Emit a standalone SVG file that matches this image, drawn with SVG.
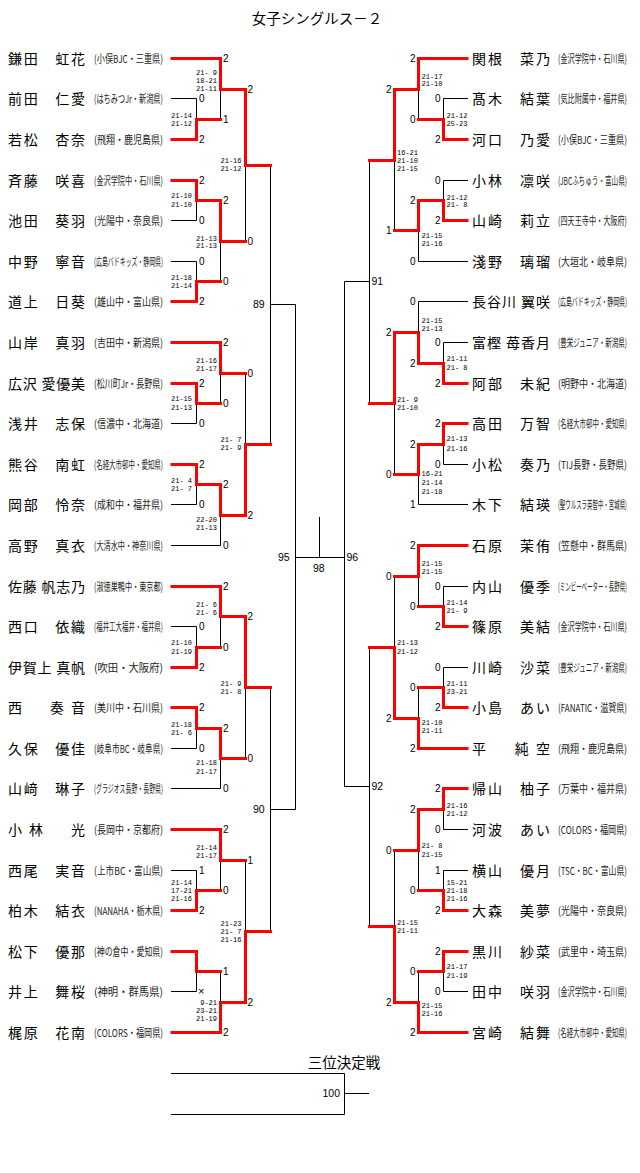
<svg xmlns="http://www.w3.org/2000/svg" width="640" height="1173" viewBox="0 0 640 1173">
<style>
.k{fill:none;stroke:#000;stroke-width:1}
.r{fill:none;stroke:#f00;stroke-width:3;stroke-linecap:square;stroke-linejoin:miter}
.nm{font-family:"Noto Sans CJK JP","Noto Sans CJK SC",sans-serif;font-size:14px;fill:#000}
.af{font-family:"Noto Sans CJK JP","Noto Sans CJK SC",sans-serif;font-size:11px;fill:#222}
.sc{font-family:"Liberation Mono",monospace;font-size:8px;fill:#000}
.lb{font-family:"Liberation Sans",sans-serif;font-size:10px;fill:#000}
.e{text-anchor:end}
.num{font-family:"Liberation Sans",sans-serif;font-size:10.5px;fill:#000}
.ttl{font-family:"Noto Sans CJK JP","Noto Sans CJK SC",sans-serif;font-size:14.5px;fill:#000}
</style>
<rect width="640" height="1173" fill="#fff"/>
<text class="ttl" x="317" y="24" text-anchor="middle">女子シングルス－２</text>

<g id="connectors">
<path class="k" d="M171 98.5H196.5 M171 220.5H196.5 M171 261.5H196.5 M171 423.5H196.5 M171 504.5H196.5 M171 545.5H220.5 M171 626.5H196.5 M171 748.5H196.5 M171 788.5H220.5 M171 870.5H196.5 M171 991.5H196.5
M196.5 98.5V139.5 M220.5 58.5V119.5 M196.5 180.5V220.5 M196.5 261.5V301.5 M220.5 200.5V281.5 M245.5 89.5V241.5
M196.5 383.5V423.5 M220.5 342.5V403.5 M196.5 464.5V504.5 M220.5 484.5V545.5 M245.5 373.5V515.5
M270.5 165.5V444.5 M270.5 304.5H295.5
M196.5 626.5V667.5 M220.5 586.5V647.5 M196.5 707.5V748.5 M220.5 728.5V788.5 M245.5 616.5V758.5
M196.5 870.5V910.5 M220.5 829.5V890.5 M196.5 951.5V991.5 M220.5 971.5V1032.5 M245.5 860.5V1002.5
M270.5 687.5V931.5 M270.5 809.5H295.5
M295.5 304.5V809.5 M295.5 557.5H344.5 M319.5 517V557.5
M344.5 281.5V786.5 M369.5 160.5V403.5 M369.5 281.5H344.5 M369.5 647.5V926.5 M369.5 786.5H344.5
M468 98.5H443.5 M468 180.5H443.5 M468 261.5H418.5 M468 301.5H418.5 M468 342.5H443.5 M468 464.5H443.5 M468 504.5H418.5 M468 586.5H443.5 M468 667.5H443.5 M468 829.5H443.5 M468 870.5H443.5 M468 991.5H443.5
M443.5 98.5V139.5 M418.5 58.5V119.5 M443.5 180.5V220.5 M418.5 200.5V261.5 M394.5 89.5V230.5 M443.5 342.5V383.5 M418.5 301.5V363.5 M443.5 423.5V464.5 M418.5 444.5V504.5 M394.5 332.5V474.5 M443.5 586.5V626.5 M418.5 545.5V606.5 M443.5 667.5V707.5 M418.5 687.5V748.5 M394.5 576.5V718.5 M443.5 788.5V829.5 M443.5 870.5V910.5 M418.5 809.5V890.5 M443.5 951.5V991.5 M418.5 971.5V1032.5 M394.5 850.5V1002.5
M171 1073.5H344.5V1114.5H171 M344.5 1093.5H369"/>
<path class="r" d="M172 58.5H220.5 M172 139.5H196.5 M172 180.5H196.5 M172 301.5H196.5 M172 342.5H220.5 M172 383.5H196.5 M172 464.5H196.5 M172 586.5H220.5 M172 667.5H196.5 M172 707.5H196.5 M172 829.5H220.5 M172 910.5H196.5 M172 951.5H196.5 M172 1032.5H220.5
M196.5 139.5V119.5H220.5 M220.5 58.5V89.5H245.5 M196.5 180.5V200.5H220.5 M196.5 301.5V281.5H220.5 M220.5 200.5V241.5H245.5 M245.5 89.5V165.5H270.5 M196.5 383.5V403.5H220.5 M220.5 342.5V373.5H245.5 M196.5 464.5V484.5H220.5 M220.5 484.5V515.5H245.5 M245.5 515.5V444.5H270.5 M196.5 667.5V647.5H220.5 M220.5 586.5V616.5H245.5 M196.5 707.5V728.5H220.5 M220.5 728.5V758.5H245.5 M245.5 616.5V687.5H270.5 M196.5 910.5V890.5H220.5 M220.5 829.5V860.5H245.5 M196.5 951.5V971.5H220.5 M220.5 1032.5V1002.5H245.5 M245.5 1002.5V931.5H270.5
M467 58.5H418.5 M467 139.5H443.5 M467 220.5H443.5 M467 383.5H443.5 M467 423.5H443.5 M467 545.5H418.5 M467 626.5H443.5 M467 707.5H443.5 M467 748.5H418.5 M467 788.5H443.5 M467 910.5H443.5 M467 951.5H443.5 M467 1032.5H418.5
M443.5 139.5V119.5H418.5 M418.5 58.5V89.5H394.5 M443.5 220.5V200.5H418.5 M418.5 200.5V230.5H394.5 M394.5 89.5V160.5H369.5 M443.5 383.5V363.5H418.5 M418.5 363.5V332.5H394.5 M443.5 423.5V444.5H418.5 M418.5 444.5V474.5H394.5 M394.5 332.5V403.5H369.5 M443.5 626.5V606.5H418.5 M418.5 545.5V576.5H394.5 M443.5 707.5V687.5H418.5 M418.5 748.5V718.5H394.5 M394.5 718.5V647.5H369.5 M443.5 788.5V809.5H418.5 M443.5 910.5V890.5H418.5 M418.5 809.5V850.5H394.5 M443.5 951.5V971.5H418.5 M418.5 1032.5V1002.5H394.5 M394.5 1002.5V926.5H369.5"/>
</g>

<g id="match-numbers" class="num">
<text x="253" y="308.3">89</text>
<text x="253" y="813.3">90</text>
<text x="278" y="561.3">95</text>
<text x="346.5" y="561.3">96</text>
<text x="313" y="572.3">98</text>
<text x="371.5" y="285.3">91</text>
<text x="371.5" y="790.3">92</text>
<text x="322.5" y="1097.3">100</text>
</g>

<g id="game-scores" class="lb">
<text x="199" y="102.1">0</text><text x="199" y="143.1">2</text>
<text x="223" y="62.1">2</text><text x="223" y="123.1">1</text>
<text x="199" y="184.1">2</text><text x="199" y="224.1">0</text>
<text x="199" y="265.1">0</text><text x="199" y="305.1">2</text>
<text x="223" y="204.1">2</text><text x="223" y="285.1">0</text>
<text x="247.5" y="93.1">2</text><text x="247.5" y="245.1">0</text>
<text x="199" y="387.1">2</text><text x="199" y="427.1">0</text>
<text x="223" y="346.1">2</text><text x="223" y="407.1">0</text>
<text x="199" y="468.1">2</text><text x="199" y="508.1">0</text>
<text x="223" y="488.1">2</text><text x="223" y="549.1">0</text>
<text x="247.5" y="377.1">0</text><text x="247.5" y="519.1">2</text>
<text x="199" y="630.1">0</text><text x="199" y="671.1">2</text>
<text x="223" y="590.1">2</text><text x="223" y="651.1">0</text>
<text x="199" y="711.1">2</text><text x="199" y="752.1">0</text>
<text x="223" y="732.1">2</text><text x="223" y="792.1">0</text>
<text x="247.5" y="620.1">2</text><text x="247.5" y="762.1">0</text>
<text x="199" y="874.1">1</text><text x="199" y="914.1">2</text>
<text x="223" y="833.1">2</text><text x="223" y="894.1">0</text>
<text x="198" y="995.3" style="font-size:11px">×</text>
<text x="223" y="975.1">1</text><text x="223" y="1036.1">2</text>
<text x="247.5" y="864.1">1</text><text x="247.5" y="1006.1">2</text>
<g class="e">
<text x="440.5" y="102.1">0</text><text x="440.5" y="143.1">2</text>
<text x="415.5" y="62.1">2</text><text x="415.5" y="123.1">0</text>
<text x="440.5" y="184.1">0</text><text x="440.5" y="224.1">2</text>
<text x="415.5" y="204.1">2</text><text x="415.5" y="265.1">0</text>
<text x="391.5" y="93.1">2</text><text x="391.5" y="234.1">1</text>
<text x="440.5" y="346.1">0</text><text x="440.5" y="387.1">2</text>
<text x="415.5" y="305.1">0</text><text x="415.5" y="367.1">2</text>
<text x="440.5" y="427.1">2</text><text x="440.5" y="468.1">0</text>
<text x="415.5" y="448.1">2</text><text x="415.5" y="508.1">1</text>
<text x="391.5" y="336.1">2</text><text x="391.5" y="478.1">0</text>
<text x="440.5" y="590.1">0</text><text x="440.5" y="630.1">2</text>
<text x="415.5" y="549.1">2</text><text x="415.5" y="610.1">0</text>
<text x="440.5" y="671.1">0</text><text x="440.5" y="711.1">2</text>
<text x="415.5" y="691.1">0</text><text x="415.5" y="752.1">2</text>
<text x="391.5" y="580.1">0</text><text x="391.5" y="722.1">2</text>
<text x="440.5" y="792.1">2</text><text x="440.5" y="833.1">0</text>
<text x="440.5" y="874.1">1</text><text x="440.5" y="914.1">2</text>
<text x="415.5" y="813.1">2</text><text x="415.5" y="894.1">0</text>
<text x="440.5" y="955.1">2</text><text x="440.5" y="995.1">0</text>
<text x="415.5" y="975.1">0</text><text x="415.5" y="1036.1">2</text>
<text x="391.5" y="854.1">0</text><text x="391.5" y="1006.1">2</text>
</g>
</g>

<g id="point-scores" class="sc">
<text x="171" y="117.8" textLength="21" lengthAdjust="spacingAndGlyphs">21-14</text>
<text x="171" y="125.8" textLength="21" lengthAdjust="spacingAndGlyphs">21-12</text>
<text x="196" y="74.8" textLength="21" lengthAdjust="spacingAndGlyphs">21- 9</text>
<text x="196" y="82.8" textLength="21" lengthAdjust="spacingAndGlyphs">18-21</text>
<text x="196" y="90.8" textLength="21" lengthAdjust="spacingAndGlyphs">21-11</text>
<text x="171" y="198.3" textLength="21" lengthAdjust="spacingAndGlyphs">21-10</text>
<text x="171" y="206.8" textLength="21" lengthAdjust="spacingAndGlyphs">21-10</text>
<text x="171" y="279.5" textLength="21" lengthAdjust="spacingAndGlyphs">21-18</text>
<text x="171" y="287.8" textLength="21" lengthAdjust="spacingAndGlyphs">21-14</text>
<text x="196" y="240.5" textLength="21" lengthAdjust="spacingAndGlyphs">21-13</text>
<text x="196" y="247.8" textLength="21" lengthAdjust="spacingAndGlyphs">21-13</text>
<text x="220.5" y="162.8" textLength="21" lengthAdjust="spacingAndGlyphs">21-16</text>
<text x="220.5" y="171.3" textLength="21" lengthAdjust="spacingAndGlyphs">21-12</text>
<text x="171" y="400.8" textLength="21" lengthAdjust="spacingAndGlyphs">21-15</text>
<text x="171" y="409.5" textLength="21" lengthAdjust="spacingAndGlyphs">21-13</text>
<text x="196" y="362.8" textLength="21" lengthAdjust="spacingAndGlyphs">21-16</text>
<text x="196" y="370.8" textLength="21" lengthAdjust="spacingAndGlyphs">21-17</text>
<text x="171" y="482.8" textLength="21" lengthAdjust="spacingAndGlyphs">21- 4</text>
<text x="171" y="490.8" textLength="21" lengthAdjust="spacingAndGlyphs">21- 7</text>
<text x="196" y="521.8" textLength="21" lengthAdjust="spacingAndGlyphs">22-20</text>
<text x="196" y="529.8" textLength="21" lengthAdjust="spacingAndGlyphs">21-13</text>
<text x="220.5" y="441.8" textLength="21" lengthAdjust="spacingAndGlyphs">21- 7</text>
<text x="220.5" y="449.8" textLength="21" lengthAdjust="spacingAndGlyphs">21- 9</text>
<text x="171" y="644.5" textLength="21" lengthAdjust="spacingAndGlyphs">21-10</text>
<text x="171" y="653.5" textLength="21" lengthAdjust="spacingAndGlyphs">21-19</text>
<text x="196" y="606.8" textLength="21" lengthAdjust="spacingAndGlyphs">21- 6</text>
<text x="196" y="614.8" textLength="21" lengthAdjust="spacingAndGlyphs">21- 6</text>
<text x="171" y="726.8" textLength="21" lengthAdjust="spacingAndGlyphs">21-18</text>
<text x="171" y="735.1" textLength="21" lengthAdjust="spacingAndGlyphs">21- 6</text>
<text x="196" y="764.5" textLength="21" lengthAdjust="spacingAndGlyphs">21-18</text>
<text x="196" y="773.8" textLength="21" lengthAdjust="spacingAndGlyphs">21-17</text>
<text x="220.5" y="686.1" textLength="21" lengthAdjust="spacingAndGlyphs">21- 9</text>
<text x="220.5" y="693.5" textLength="21" lengthAdjust="spacingAndGlyphs">21- 8</text>
<text x="171" y="884.5" textLength="21" lengthAdjust="spacingAndGlyphs">21-14</text>
<text x="171" y="893.1" textLength="21" lengthAdjust="spacingAndGlyphs">17-21</text>
<text x="171" y="900.8" textLength="21" lengthAdjust="spacingAndGlyphs">21-16</text>
<text x="196" y="849.8" textLength="21" lengthAdjust="spacingAndGlyphs">21-14</text>
<text x="196" y="858.1" textLength="21" lengthAdjust="spacingAndGlyphs">21-17</text>
<text x="200.2" y="1005.1" textLength="16.8" lengthAdjust="spacingAndGlyphs">9-21</text>
<text x="196" y="1013.1" textLength="21" lengthAdjust="spacingAndGlyphs">23-21</text>
<text x="196" y="1020.8" textLength="21" lengthAdjust="spacingAndGlyphs">21-19</text>
<text x="220.5" y="926.1" textLength="21" lengthAdjust="spacingAndGlyphs">21-23</text>
<text x="220.5" y="933.5" textLength="21" lengthAdjust="spacingAndGlyphs">21- 7</text>
<text x="220.5" y="941.8" textLength="21" lengthAdjust="spacingAndGlyphs">21-16</text>
<text x="446.5" y="117.8" textLength="21" lengthAdjust="spacingAndGlyphs">21-12</text>
<text x="446.5" y="126.1" textLength="21" lengthAdjust="spacingAndGlyphs">25-23</text>
<text x="421.5" y="78.5" textLength="21" lengthAdjust="spacingAndGlyphs">21-17</text>
<text x="421.5" y="86.1" textLength="21" lengthAdjust="spacingAndGlyphs">21-10</text>
<text x="446.5" y="199.5" textLength="21" lengthAdjust="spacingAndGlyphs">21-12</text>
<text x="446.5" y="206.8" textLength="21" lengthAdjust="spacingAndGlyphs">21- 8</text>
<text x="421.5" y="237.8" textLength="21" lengthAdjust="spacingAndGlyphs">21-15</text>
<text x="421.5" y="245.5" textLength="21" lengthAdjust="spacingAndGlyphs">21-16</text>
<text x="397" y="154.5" textLength="21" lengthAdjust="spacingAndGlyphs">16-21</text>
<text x="397" y="162.8" textLength="21" lengthAdjust="spacingAndGlyphs">21-10</text>
<text x="397" y="171.1" textLength="21" lengthAdjust="spacingAndGlyphs">21-15</text>
<text x="446.5" y="361.1" textLength="21" lengthAdjust="spacingAndGlyphs">21-11</text>
<text x="446.5" y="370.1" textLength="21" lengthAdjust="spacingAndGlyphs">21- 8</text>
<text x="421.5" y="322.8" textLength="21" lengthAdjust="spacingAndGlyphs">21-15</text>
<text x="421.5" y="331.1" textLength="21" lengthAdjust="spacingAndGlyphs">21-13</text>
<text x="446.5" y="441.1" textLength="21" lengthAdjust="spacingAndGlyphs">21-13</text>
<text x="446.5" y="450.5" textLength="21" lengthAdjust="spacingAndGlyphs">21-16</text>
<text x="421.5" y="476.1" textLength="21" lengthAdjust="spacingAndGlyphs">16-21</text>
<text x="421.5" y="484.8" textLength="21" lengthAdjust="spacingAndGlyphs">21-14</text>
<text x="421.5" y="493.5" textLength="21" lengthAdjust="spacingAndGlyphs">21-18</text>
<text x="397" y="401.8" textLength="21" lengthAdjust="spacingAndGlyphs">21- 9</text>
<text x="397" y="409.5" textLength="21" lengthAdjust="spacingAndGlyphs">21-10</text>
<text x="446.5" y="604.8" textLength="21" lengthAdjust="spacingAndGlyphs">21-14</text>
<text x="446.5" y="612.8" textLength="21" lengthAdjust="spacingAndGlyphs">21- 9</text>
<text x="421.5" y="566.1" textLength="21" lengthAdjust="spacingAndGlyphs">21-15</text>
<text x="421.5" y="573.8" textLength="21" lengthAdjust="spacingAndGlyphs">21-15</text>
<text x="446.5" y="685.5" textLength="21" lengthAdjust="spacingAndGlyphs">21-11</text>
<text x="446.5" y="693.8" textLength="21" lengthAdjust="spacingAndGlyphs">23-21</text>
<text x="421.5" y="725.1" textLength="21" lengthAdjust="spacingAndGlyphs">21-10</text>
<text x="421.5" y="732.8" textLength="21" lengthAdjust="spacingAndGlyphs">21-11</text>
<text x="397" y="644.5" textLength="21" lengthAdjust="spacingAndGlyphs">21-13</text>
<text x="397" y="653.8" textLength="21" lengthAdjust="spacingAndGlyphs">21-12</text>
<text x="446.5" y="807.8" textLength="21" lengthAdjust="spacingAndGlyphs">21-16</text>
<text x="446.5" y="815.8" textLength="21" lengthAdjust="spacingAndGlyphs">21-12</text>
<text x="446.5" y="884.5" textLength="21" lengthAdjust="spacingAndGlyphs">15-21</text>
<text x="446.5" y="892.8" textLength="21" lengthAdjust="spacingAndGlyphs">21-18</text>
<text x="446.5" y="900.8" textLength="21" lengthAdjust="spacingAndGlyphs">21-16</text>
<text x="421.5" y="847.8" textLength="21" lengthAdjust="spacingAndGlyphs">21- 8</text>
<text x="421.5" y="856.8" textLength="21" lengthAdjust="spacingAndGlyphs">21-15</text>
<text x="446.5" y="968.8" textLength="21" lengthAdjust="spacingAndGlyphs">21-17</text>
<text x="446.5" y="977.5" textLength="21" lengthAdjust="spacingAndGlyphs">21-19</text>
<text x="421.5" y="1007.8" textLength="21" lengthAdjust="spacingAndGlyphs">21-15</text>
<text x="421.5" y="1016.1" textLength="21" lengthAdjust="spacingAndGlyphs">21-16</text>
<text x="397" y="924.5" textLength="21" lengthAdjust="spacingAndGlyphs">21-15</text>
<text x="397" y="932.8" textLength="21" lengthAdjust="spacingAndGlyphs">21-11</text>
</g>

<g id="L00"><text class="nm" x="8" y="63.5" textLength="77">鎌田　虹花</text><text class="af" transform="translate(94 62.5) scale(0.75 1)" textLength="92" lengthAdjust="spacingAndGlyphs">(小俣BJC・三重県)</text></g>
<g id="L01"><text class="nm" x="8" y="103.5" textLength="77">前田　仁愛</text><text class="af" transform="translate(94 102.5) scale(0.66 1)" textLength="104.5" lengthAdjust="spacingAndGlyphs">(はちみつJr・新潟県)</text></g>
<g id="L02"><text class="nm" x="8" y="144.5" textLength="77">若松　杏奈</text><text class="af" transform="translate(94 143.5) scale(0.821 1)" textLength="84" lengthAdjust="spacingAndGlyphs">(飛翔・鹿児島県)</text></g>
<g id="L03"><text class="nm" x="8" y="185.5" textLength="77">斉藤　咲喜</text><text class="af" transform="translate(94 184.5) scale(0.651 1)" textLength="106" lengthAdjust="spacingAndGlyphs">(金沢学院中・石川県)</text></g>
<g id="L04"><text class="nm" x="8" y="225.5" textLength="77">池田　葵羽</text><text class="af" transform="translate(94 224.5) scale(0.821 1)" textLength="84" lengthAdjust="spacingAndGlyphs">(光陽中・奈良県)</text></g>
<g id="L05"><text class="nm" x="8" y="266.5" textLength="77">中野　寧音</text><text class="af" transform="translate(94 265.5) scale(0.539 1)" textLength="128" lengthAdjust="spacingAndGlyphs">(広島バドキッズ・静岡県)</text></g>
<g id="L06"><text class="nm" x="8" y="306.5" textLength="77">道上　日葵</text><text class="af" transform="translate(94 305.5) scale(0.821 1)" textLength="84" lengthAdjust="spacingAndGlyphs">(雄山中・富山県)</text></g>
<g id="L07"><text class="nm" x="8" y="347.5" textLength="77">山岸　真羽</text><text class="af" transform="translate(94 346.5) scale(0.821 1)" textLength="84" lengthAdjust="spacingAndGlyphs">(吉田中・新潟県)</text></g>
<g id="L08"><text class="nm" x="8" y="388.5" textLength="77">広沢 愛優美</text><text class="af" transform="translate(94 387.5) scale(0.738 1)" textLength="93.5" lengthAdjust="spacingAndGlyphs">(松川町Jr・長野県)</text></g>
<g id="L09"><text class="nm" x="8" y="428.5" textLength="77">浅井　志保</text><text class="af" transform="translate(94 427.5) scale(0.821 1)" textLength="84" lengthAdjust="spacingAndGlyphs">(信濃中・北海道)</text></g>
<g id="L10"><text class="nm" x="8" y="469.5" textLength="77">熊谷　南虹</text><text class="af" transform="translate(94 468.5) scale(0.59 1)" textLength="117" lengthAdjust="spacingAndGlyphs">(名経大市邨中・愛知県)</text></g>
<g id="L11"><text class="nm" x="8" y="509.5" textLength="77">岡部　怜奈</text><text class="af" transform="translate(94 508.5) scale(0.821 1)" textLength="84" lengthAdjust="spacingAndGlyphs">(成和中・福井県)</text></g>
<g id="L12"><text class="nm" x="8" y="550.5" textLength="77">高野　真衣</text><text class="af" transform="translate(94 549.5) scale(0.651 1)" textLength="106" lengthAdjust="spacingAndGlyphs">(大清水中・神奈川県)</text></g>
<g id="L13"><text class="nm" x="8" y="591.5" textLength="77">佐藤 帆志乃</text><text class="af" transform="translate(94 590.5) scale(0.651 1)" textLength="106" lengthAdjust="spacingAndGlyphs">(淑徳巣鴨中・東京都)</text></g>
<g id="L14"><text class="nm" x="8" y="631.5" textLength="77">西口　依織</text><text class="af" transform="translate(94 630.5) scale(0.59 1)" textLength="117" lengthAdjust="spacingAndGlyphs">(福井工大福井・福井県)</text></g>
<g id="L15"><text class="nm" x="8" y="672.5" textLength="77">伊賀上 真帆</text><text class="af" transform="translate(94 671.5) scale(0.945 1)" textLength="73" lengthAdjust="spacingAndGlyphs">(吹田・大阪府)</text></g>
<g id="L16"><text class="nm" x="8" y="712.5" textLength="77">西　奏音</text><text class="af" transform="translate(94 711.5) scale(0.821 1)" textLength="84" lengthAdjust="spacingAndGlyphs">(美川中・石川県)</text></g>
<g id="L17"><text class="nm" x="8" y="753.5" textLength="77">久保　優佳</text><text class="af" transform="translate(94 752.5) scale(0.704 1)" textLength="98" lengthAdjust="spacingAndGlyphs">(岐阜市BC・岐阜県)</text></g>
<g id="L18"><text class="nm" x="8" y="793.5" textLength="77">山﨑　琳子</text><text class="af" transform="translate(94 792.5) scale(0.539 1)" textLength="128" lengthAdjust="spacingAndGlyphs">(グラジオス長野・長野県)</text></g>
<g id="L19"><text class="nm" x="8" y="834.5" textLength="77">小林　光</text><text class="af" transform="translate(94 833.5) scale(0.821 1)" textLength="84" lengthAdjust="spacingAndGlyphs">(長岡中・京都府)</text></g>
<g id="L20"><text class="nm" x="8" y="875.5" textLength="77">西尾　実音</text><text class="af" transform="translate(94 874.5) scale(0.793 1)" textLength="87" lengthAdjust="spacingAndGlyphs">(上市BC・富山県)</text></g>
<g id="L21"><text class="nm" x="8" y="915.5" textLength="77">柏木　結衣</text><text class="af" transform="translate(94 914.5) scale(0.742 1)" textLength="93" lengthAdjust="spacingAndGlyphs">(NANAHA・栃木県)</text></g>
<g id="L22"><text class="nm" x="8" y="956.5" textLength="77">松下　優那</text><text class="af" transform="translate(94 955.5) scale(0.726 1)" textLength="95" lengthAdjust="spacingAndGlyphs">(神の倉中・愛知県)</text></g>
<g id="L23"><text class="nm" x="8" y="996.5" textLength="77">井上　舞桜</text><text class="af" transform="translate(94 995.5) scale(0.945 1)" textLength="73" lengthAdjust="spacingAndGlyphs">(神明・群馬県)</text></g>
<g id="L24"><text class="nm" x="8" y="1037.5" textLength="77">梶原　花南</text><text class="af" transform="translate(94 1036.5) scale(0.75 1)" textLength="92" lengthAdjust="spacingAndGlyphs">(COLORS・福岡県)</text></g>

<g id="R00"><text class="nm" x="472" y="63.5" textLength="78">関根　菜乃</text><text class="af" transform="translate(558 62.5) scale(0.651 1)" textLength="106" lengthAdjust="spacingAndGlyphs">(金沢学院中・石川県)</text></g>
<g id="R01"><text class="nm" x="472" y="103.5" textLength="78">髙木　結葉</text><text class="af" transform="translate(558 102.5) scale(0.651 1)" textLength="106" lengthAdjust="spacingAndGlyphs">(気比附属中・福井県)</text></g>
<g id="R02"><text class="nm" x="472" y="144.5" textLength="78">河口　乃愛</text><text class="af" transform="translate(558 143.5) scale(0.75 1)" textLength="92" lengthAdjust="spacingAndGlyphs">(小俣BJC・三重県)</text></g>
<g id="R03"><text class="nm" x="472" y="185.5" textLength="78">小林　凛咲</text><text class="af" transform="translate(558 184.5) scale(0.605 1)" textLength="114" lengthAdjust="spacingAndGlyphs">(JBCふちゅう・富山県)</text></g>
<g id="R04"><text class="nm" x="472" y="225.5" textLength="78">山崎　莉立</text><text class="af" transform="translate(558 224.5) scale(0.651 1)" textLength="106" lengthAdjust="spacingAndGlyphs">(四天王寺中・大阪府)</text></g>
<g id="R05"><text class="nm" x="472" y="266.5" textLength="78">淺野　璃瑠</text><text class="af" transform="translate(558 265.5) scale(0.821 1)" textLength="84" lengthAdjust="spacingAndGlyphs">(大垣北・岐阜県)</text></g>
<g id="R06"><text class="nm" x="472" y="306.5" textLength="78">長谷川 翼咲</text><text class="af" transform="translate(558 305.5) scale(0.539 1)" textLength="128" lengthAdjust="spacingAndGlyphs">(広島バドキッズ・静岡県)</text></g>
<g id="R07"><text class="nm" x="472" y="347.5" textLength="78">富樫 苺香月</text><text class="af" transform="translate(558 346.5) scale(0.59 1)" textLength="117" lengthAdjust="spacingAndGlyphs">(豊栄ジュニア・新潟県)</text></g>
<g id="R08"><text class="nm" x="472" y="388.5" textLength="78">阿部　未紀</text><text class="af" transform="translate(558 387.5) scale(0.821 1)" textLength="84" lengthAdjust="spacingAndGlyphs">(明野中・北海道)</text></g>
<g id="R09"><text class="nm" x="472" y="428.5" textLength="78">高田　万智</text><text class="af" transform="translate(558 427.5) scale(0.59 1)" textLength="117" lengthAdjust="spacingAndGlyphs">(名経大市邨中・愛知県)</text></g>
<g id="R10"><text class="nm" x="472" y="469.5" textLength="78">小松　奏乃</text><text class="af" transform="translate(558 468.5) scale(0.784 1)" textLength="88" lengthAdjust="spacingAndGlyphs">(TIJ長野・長野県)</text></g>
<g id="R11"><text class="nm" x="472" y="509.5" textLength="78">木下　結瑛</text><text class="af" transform="translate(558 508.5) scale(0.496 1)" textLength="139" lengthAdjust="spacingAndGlyphs">(聖ウルスラ英智中・宮城県)</text></g>
<g id="R12"><text class="nm" x="472" y="550.5" textLength="78">石原　茉侑</text><text class="af" transform="translate(558 549.5) scale(0.821 1)" textLength="84" lengthAdjust="spacingAndGlyphs">(笠懸中・群馬県)</text></g>
<g id="R13"><text class="nm" x="472" y="591.5" textLength="78">内山　優季</text><text class="af" transform="translate(558 590.5) scale(0.496 1)" textLength="139" lengthAdjust="spacingAndGlyphs">(ミンビーベーター・長野県)</text></g>
<g id="R14"><text class="nm" x="472" y="631.5" textLength="78">篠原　美結</text><text class="af" transform="translate(558 630.5) scale(0.651 1)" textLength="106" lengthAdjust="spacingAndGlyphs">(金沢学院中・石川県)</text></g>
<g id="R15"><text class="nm" x="472" y="672.5" textLength="78">川崎　沙菜</text><text class="af" transform="translate(558 671.5) scale(0.59 1)" textLength="117" lengthAdjust="spacingAndGlyphs">(豊栄ジュニア・新潟県)</text></g>
<g id="R16"><text class="nm" x="472" y="712.5" textLength="78">小島　あい</text><text class="af" transform="translate(558 711.5) scale(0.734 1)" textLength="94" lengthAdjust="spacingAndGlyphs">(FANATIC・滋賀県)</text></g>
<g id="R17"><text class="nm" x="472" y="753.5" textLength="78">平　純空</text><text class="af" transform="translate(558 752.5) scale(0.821 1)" textLength="84" lengthAdjust="spacingAndGlyphs">(飛翔・鹿児島県)</text></g>
<g id="R18"><text class="nm" x="472" y="793.5" textLength="78">帰山　柚子</text><text class="af" transform="translate(558 792.5) scale(0.821 1)" textLength="84" lengthAdjust="spacingAndGlyphs">(万葉中・福井県)</text></g>
<g id="R19"><text class="nm" x="472" y="834.5" textLength="78">河波　あい</text><text class="af" transform="translate(558 833.5) scale(0.75 1)" textLength="92" lengthAdjust="spacingAndGlyphs">(COLORS・福岡県)</text></g>
<g id="R20"><text class="nm" x="472" y="875.5" textLength="78">横山　優月</text><text class="af" transform="translate(558 874.5) scale(0.726 1)" textLength="95" lengthAdjust="spacingAndGlyphs">(TSC・BC・富山県)</text></g>
<g id="R21"><text class="nm" x="472" y="915.5" textLength="78">大森　美夢</text><text class="af" transform="translate(558 914.5) scale(0.821 1)" textLength="84" lengthAdjust="spacingAndGlyphs">(光陽中・奈良県)</text></g>
<g id="R22"><text class="nm" x="472" y="956.5" textLength="78">黒川　紗菜</text><text class="af" transform="translate(558 955.5) scale(0.821 1)" textLength="84" lengthAdjust="spacingAndGlyphs">(武里中・埼玉県)</text></g>
<g id="R23"><text class="nm" x="472" y="996.5" textLength="78">田中　咲羽</text><text class="af" transform="translate(558 995.5) scale(0.651 1)" textLength="106" lengthAdjust="spacingAndGlyphs">(金沢学院中・石川県)</text></g>
<g id="R24"><text class="nm" x="472" y="1037.5" textLength="78">宮崎　結舞</text><text class="af" transform="translate(558 1036.5) scale(0.59 1)" textLength="117" lengthAdjust="spacingAndGlyphs">(名経大市邨中・愛知県)</text></g>

<g id="third-place"><text class="ttl" x="344" y="1068" text-anchor="middle">三位決定戦</text></g>
</svg>
